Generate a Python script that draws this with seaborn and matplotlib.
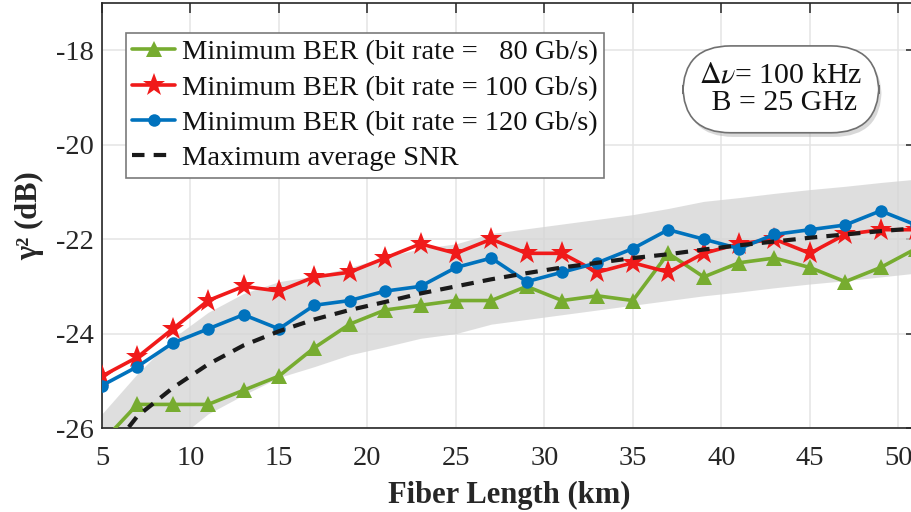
import numpy as np
import pandas as pd
import matplotlib
matplotlib.use("Agg")
import matplotlib.pyplot as plt
import matplotlib.patheffects as pe
import seaborn as sns

# Fiber lengths (km)
length_km = [5, 7, 9, 11, 13, 15, 17, 19, 21, 23, 25, 27, 29, 31, 33, 35,
             37, 39, 41, 43, 45, 47, 49, 51]

# gamma^2 (dB) for minimum-BER operation at three bit rates
ber_80 = [-26.3, -25.5, -25.5, -25.5, -25.2, -24.9, -24.3, -23.8, -23.5, -23.4,
          -23.3, -23.3, -23.0, -23.3, -23.2, -23.3, -22.3, -22.8, -22.5, -22.4,
          -22.6, -22.9, -22.6, -22.2]
ber_100 = [-24.9, -24.5, -23.9, -23.3, -23.0, -23.1, -22.8, -22.7, -22.4, -22.1,
           -22.3, -22.0, -22.3, -22.3, -22.7, -22.5, -22.7, -22.3, -22.1, -22.0,
           -22.3, -21.9, -21.8, -21.8]
ber_120 = [-25.1, -24.7, -24.2, -23.9, -23.6, -23.9, -23.4, -23.3, -23.1, -23.0,
           -22.6, -22.4, -22.9, -22.7, -22.5, -22.2, -21.8, -22.0, -22.2, -21.9,
           -21.8, -21.7, -21.4, -21.7]

# gamma^2 (dB) maximising average SNR, with its spread
snr_max = [-26.7, -25.75, -25.15, -24.65, -24.25, -23.95, -23.7, -23.5, -23.33,
           -23.15, -23.0, -22.85, -22.72, -22.6, -22.5, -22.4, -22.32, -22.22,
           -22.13, -22.05, -21.97, -21.9, -21.83, -21.77]
snr_upper = [-25.7, -24.85, -24.1, -23.55, -23.15, -22.9, -22.78, -22.6, -22.38,
             -22.2, -22.1, -21.88, -21.78, -21.68, -21.58, -21.48, -21.35, -21.2,
             -21.12, -21.03, -20.95, -20.88, -20.8, -20.73]
snr_lower = [-27.6, -26.8, -26.3, -25.7, -25.3, -24.93, -24.7, -24.45, -24.28,
             -24.1, -24.0, -23.8, -23.7, -23.6, -23.5, -23.4, -23.3, -23.2,
             -23.12, -23.03, -22.95, -22.88, -22.8, -22.72]

x_ticks = [5, 10, 15, 20, 25, 30, 35, 40, 45, 50]
y_ticks = [-26, -24, -22, -20, -18]

sns.set_theme(style="white")
plt.rcParams["font.family"] = ["Liberation Serif", "DejaVu Serif"]
plt.rcParams["mathtext.fontset"] = "stix"
plt.rcParams["axes.unicode_minus"] = False

fig = plt.figure(figsize=(9.12, 5.12), dpi=100)
ax = fig.add_axes([0.1118, 0.164, 0.8926, 0.830])

df = pd.DataFrame({"L": length_km, "b80": ber_80, "b100": ber_100,
                   "b120": ber_120, "snr": snr_max})

ax.fill_between(length_km, snr_lower, snr_upper, color="#d4d4d4",
                alpha=0.75, lw=0, zorder=1)

green, red, blue = "#77AC30", "#F01A1A", "#0072BD"
sns.lineplot(data=df, x="L", y="b80", ax=ax, color=green, lw=2.6,
             marker="^", markersize=11, markeredgewidth=0,
             label="Minimum BER (bit rate =   80 Gb/s)", zorder=3)
sns.lineplot(data=df, x="L", y="b100", ax=ax, color=red, lw=2.6,
             marker="*", markersize=17, markeredgewidth=0,
             label="Minimum BER (bit rate = 100 Gb/s)", zorder=4)
sns.lineplot(data=df, x="L", y="b120", ax=ax, color=blue, lw=2.6,
             marker="o", markersize=9, markeredgewidth=0,
             label="Minimum BER (bit rate = 120 Gb/s)", zorder=5)
sns.lineplot(data=df, x="L", y="snr", ax=ax, color="#1a1a1a", lw=3,
             linestyle=(0, (3, 2.2)), label="Maximum average SNR", zorder=6)

ax.set_xlim(5, 51)
ax.set_ylim(-26, -17)
ax.set_xticks(x_ticks)
ax.set_yticks(y_ticks)
ax.grid(True, color="#e4e4e4", lw=1.1, zorder=0)
ax.set_axisbelow(True)
ax.tick_params(direction="in", length=7, width=1.1, colors="#262626",
               labelsize=20.5, top=True, right=True)
ax.tick_params(axis="x", pad=13)
ax.tick_params(axis="y", pad=6)
for s in ax.spines.values():
    s.set_color("#262626")
    s.set_linewidth(1.2)

ax.set_xlabel("Fiber Length (km)", fontsize=22, fontweight="bold",
              color="#262626", labelpad=7)
ax.set_ylabel("γ² (dB)", fontsize=22, fontweight="bold", color="#262626",
              labelpad=8)

leg = ax.legend(loc="upper left", bbox_to_anchor=(0.0295, 0.929),
                borderaxespad=0, fontsize=20.5, frameon=True, fancybox=False,
                handlelength=1.5, handletextpad=0.25, labelspacing=0.33,
                borderpad=0.22, framealpha=1)
leg.get_frame().set_edgecolor("#7a7a7a")
leg.get_frame().set_linewidth(1.2)
for t in leg.get_texts():
    t.set_color("#111111")

txt = ax.text(0.834, 0.797, "$\\Delta\\nu$= 100 kHz\n B = 25 GHz",
              transform=ax.transAxes, ha="center", va="center", fontsize=21.5,
              color="#111111", linespacing=1.1, zorder=10,
              bbox=dict(boxstyle="round,pad=0.55,rounding_size=1.6",
                        fc="white", ec="#707070", lw=1.2))
txt.get_bbox_patch().set_path_effects(
    [pe.SimplePatchShadow(offset=(2, -3), shadow_rgbFace="#aaaaaa",
                          alpha=0.45), pe.Normal()])

fig.savefig("out.png", dpi=100)
